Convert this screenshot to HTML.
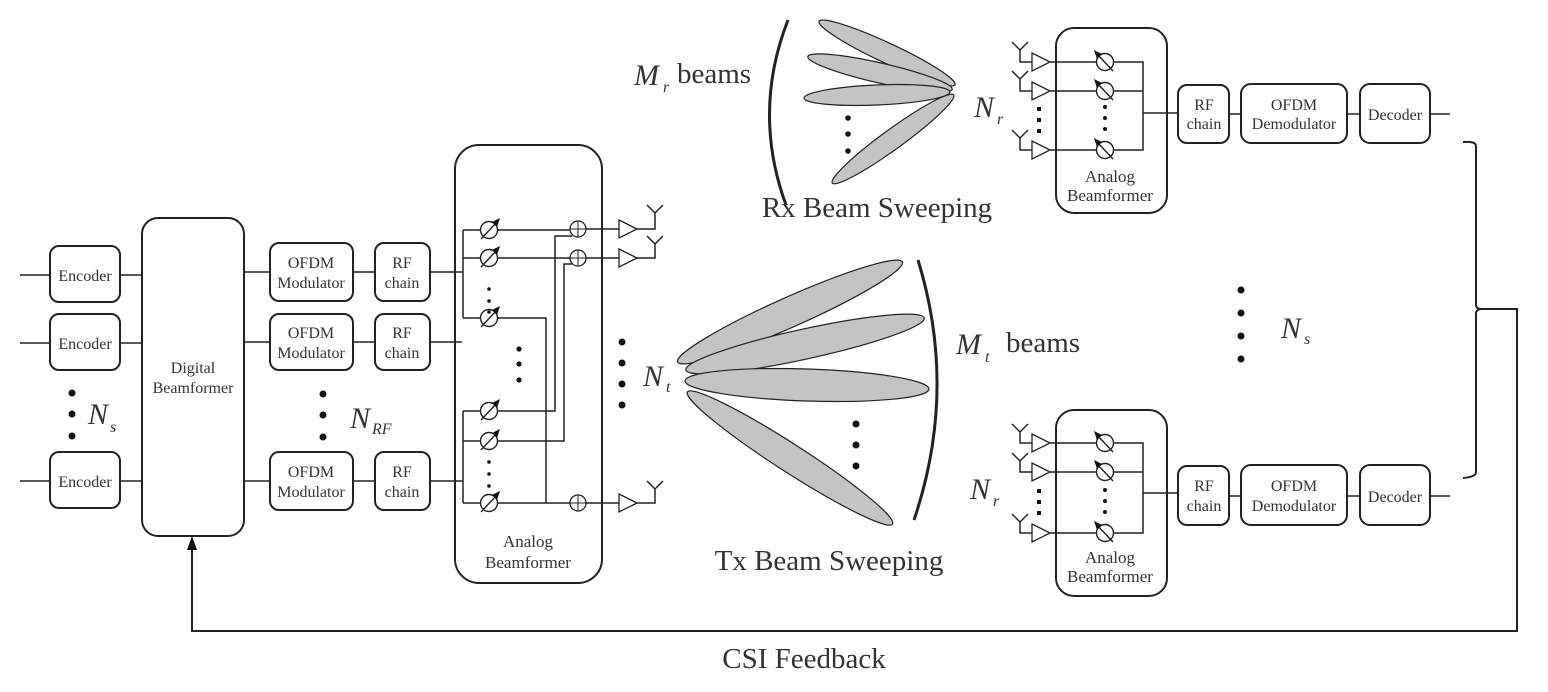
<!DOCTYPE html>
<html><head><meta charset="utf-8"><style>
html,body{margin:0;padding:0;background:#fff}
svg{display:block}
text{font-family:"Liberation Serif",serif;fill:#333}
.s{font-size:16px}
.b{font-size:29px}
.i{font-style:italic;font-size:30px}
.sub{font-style:italic;font-size:16px}
</style></head><body>
<svg width="1548" height="692" viewBox="0 0 1548 692" xmlns="http://www.w3.org/2000/svg">
<defs>
<g id="ps"><circle r="8.5" fill="#fff" stroke="#222" stroke-width="1.4"/><line x1="-8" y1="9" x2="8" y2="-8" stroke="#222" stroke-width="1.4"/><polygon points="11,-12 3,-8 8,-3" fill="#111"/></g>
<g id="psr"><circle r="8.5" fill="#fff" stroke="#222" stroke-width="1.4"/><line x1="8" y1="9" x2="-8" y2="-8" stroke="#222" stroke-width="1.4"/><polygon points="-11,-12 -3,-8 -8,-3" fill="#111"/></g>
<g id="sum"><circle r="8" fill="#fff" stroke="#222" stroke-width="1.3"/><line x1="-8" y1="0" x2="8" y2="0" stroke="#222"/><line x1="0" y1="-8" x2="0" y2="8" stroke="#222"/></g>
<g id="amp"><polygon points="0,-9 18,0 0,9" fill="#fff" stroke="#222" stroke-width="1.3"/></g>
</defs>
<g fill="none" stroke="#222" stroke-width="1.5">
<path d="M20 275H50M20 343H50M20 481H50M120 275H142M120 343H142M120 481H142M244 272H270M244 342H270M244 481H270M353 272H375M353 342H375M353 481H375M430 272H463M430 342H462M430 481H463"/>
<g stroke-width="2">
<rect x="50" y="246" width="70" height="56" rx="9"/>
<rect x="50" y="314" width="70" height="56" rx="9"/>
<rect x="50" y="452" width="70" height="56" rx="9"/>
<rect x="142" y="218" width="102" height="318" rx="16"/>
<rect x="270" y="243" width="83" height="58" rx="9"/>
<rect x="270" y="314" width="83" height="56" rx="9"/>
<rect x="270" y="452" width="83" height="58" rx="9"/>
<rect x="375" y="243" width="55" height="58" rx="9"/>
<rect x="375" y="314" width="55" height="56" rx="9"/>
<rect x="375" y="452" width="55" height="58" rx="9"/>
<rect x="455" y="145" width="147" height="438" rx="24"/>
</g>
<path d="M463 230V318M463 230H481M463 258H481M463 318H481M463 411V503M463 411H481M463 441H481M463 503H481"/>
<path d="M497 230H570M497 258H570M497 318H546V503H570M497 411H555V236H572M497 441H564V264H572M497 503H570"/>
<path d="M586 229H619M586 258H619M586 503H619"/>
<path d="M637 229H655V213M647 205L655 213L663 205M637 258H655V244M647 236L655 244L663 236M637 503H655V489M647 481L655 489L663 481"/>
<path d="M1012 42L1020 50L1028 42M1020 50V62H1032M1012 71L1020 79L1028 71M1020 79V91H1032M1012 130L1020 138L1028 130M1020 138V150H1032"/>
<path d="M1050 62H1097M1050 91H1097M1050 150H1097M1113 62H1143V150H1113M1113 91H1143M1143 113H1178M1229 114H1241M1347 114H1360M1430 114H1450"/>
<path d="M1012 424L1020 432L1028 424M1020 432V443H1032M1012 453L1020 461L1028 453M1020 461V472H1032M1012 514L1020 522L1028 514M1020 522V533H1032"/>
<path d="M1050 443H1097M1050 472H1097M1050 533H1097M1113 443H1143V533H1113M1113 472H1143M1143 493H1178M1229 496H1241M1347 496H1360M1430 496H1450"/>
<g stroke-width="2">
<rect x="1056" y="28" width="111" height="185" rx="18"/>
<rect x="1056" y="410" width="111" height="186" rx="18"/>
<rect x="1178" y="85" width="51" height="58" rx="9"/>
<rect x="1241" y="84" width="106" height="59" rx="10"/>
<rect x="1360" y="84" width="70" height="59" rx="10"/>
<rect x="1178" y="466" width="51" height="59" rx="9"/>
<rect x="1241" y="465" width="106" height="60" rx="10"/>
<rect x="1360" y="465" width="70" height="60" rx="10"/>
<path d="M1463 142Q1476 141 1476 146V305Q1476 309 1482 309H1517V631H192V545"/>
<path d="M1482 309Q1476 309 1476 314V472Q1476 477 1463 478"/>
</g>
<polygon points="192,536 187,550 197,550" fill="#111" stroke="none"/>
<path d="M918 260Q958 390 914 520" stroke-width="3"/>
<path d="M788 20Q752 112 786 205" stroke-width="3"/>
</g>
<g fill="#c4c4c4" stroke="#222" stroke-width="1.2">
<ellipse cx="790" cy="312" rx="123" ry="15" transform="rotate(-24 790 312)"/>
<ellipse cx="805" cy="344" rx="122" ry="15" transform="rotate(-12.3 805 344)"/>
<ellipse cx="807" cy="385" rx="122" ry="16" transform="rotate(1.9 807 385)"/>
<ellipse cx="790" cy="458" rx="122" ry="14" transform="rotate(32.8 790 458)"/>
<ellipse cx="887" cy="53" rx="75" ry="10" transform="rotate(25 887 53)"/>
<ellipse cx="880" cy="73" rx="74" ry="10" transform="rotate(12.8 880 73)"/>
<ellipse cx="877" cy="95" rx="73" ry="10" transform="rotate(-2.4 877 95)"/>
<ellipse cx="893" cy="139" rx="75" ry="10" transform="rotate(-36 893 139)"/>
</g>
<use href="#ps" x="489" y="230"/><use href="#ps" x="489" y="258"/><use href="#ps" x="489" y="318"/>
<use href="#ps" x="489" y="411"/><use href="#ps" x="489" y="441"/><use href="#ps" x="489" y="503"/>
<use href="#sum" x="578" y="229"/><use href="#sum" x="578" y="258"/><use href="#sum" x="578" y="503"/>
<use href="#amp" x="619" y="229"/><use href="#amp" x="619" y="258"/><use href="#amp" x="619" y="503"/>
<use href="#amp" x="1032" y="62"/><use href="#amp" x="1032" y="91"/><use href="#amp" x="1032" y="150"/>
<use href="#amp" x="1032" y="443"/><use href="#amp" x="1032" y="472"/><use href="#amp" x="1032" y="533"/>
<use href="#psr" x="1105" y="62"/><use href="#psr" x="1105" y="91"/><use href="#psr" x="1105" y="150"/>
<use href="#psr" x="1105" y="443"/><use href="#psr" x="1105" y="472"/><use href="#psr" x="1105" y="533"/>
<g fill="#111">
<circle cx="72" cy="393" r="3.5"/><circle cx="72" cy="414" r="3.5"/><circle cx="72" cy="436" r="3.5"/>
<circle cx="323" cy="394" r="3.5"/><circle cx="323" cy="415" r="3.5"/><circle cx="323" cy="437" r="3.5"/>
<circle cx="489" cy="289" r="1.8"/><circle cx="489" cy="301" r="1.8"/><circle cx="489" cy="312" r="1.8"/>
<circle cx="489" cy="462" r="1.8"/><circle cx="489" cy="474" r="1.8"/><circle cx="489" cy="486" r="1.8"/>
<circle cx="519" cy="349" r="2.6"/><circle cx="519" cy="364" r="2.6"/><circle cx="519" cy="380" r="2.6"/>
<circle cx="622" cy="342" r="3.5"/><circle cx="622" cy="363" r="3.5"/><circle cx="622" cy="384" r="3.5"/><circle cx="622" cy="405" r="3.5"/>
<circle cx="856" cy="424" r="3.5"/><circle cx="856" cy="445" r="3.5"/><circle cx="856" cy="466" r="3.5"/>
<circle cx="848" cy="118" r="2.8"/><circle cx="848" cy="134" r="2.8"/><circle cx="848" cy="151" r="2.8"/>
<circle cx="1241" cy="290" r="3.5"/><circle cx="1241" cy="313" r="3.5"/><circle cx="1241" cy="336" r="3.5"/><circle cx="1241" cy="359" r="3.5"/>
<rect x="1037" y="107" width="4" height="4"/><rect x="1037" y="118" width="4" height="4"/><rect x="1037" y="129" width="4" height="4"/>
<rect x="1037" y="489" width="4" height="4"/><rect x="1037" y="500" width="4" height="4"/><rect x="1037" y="511" width="4" height="4"/>
<circle cx="1105" cy="107" r="2"/><circle cx="1105" cy="118" r="2"/><circle cx="1105" cy="129" r="2"/>
<circle cx="1105" cy="490" r="2"/><circle cx="1105" cy="501" r="2"/><circle cx="1105" cy="512" r="2"/>
</g>
<g class="s" text-anchor="middle">
<text x="85" y="281">Encoder</text><text x="85" y="349">Encoder</text><text x="85" y="487">Encoder</text>
<text x="193" y="373">Digital</text><text x="193" y="393">Beamformer</text>
<text x="311" y="268">OFDM</text><text x="311" y="288">Modulator</text>
<text x="311" y="338">OFDM</text><text x="311" y="358">Modulator</text>
<text x="311" y="477">OFDM</text><text x="311" y="497">Modulator</text>
<text x="402" y="268">RF</text><text x="402" y="288">chain</text>
<text x="402" y="338">RF</text><text x="402" y="358">chain</text>
<text x="402" y="477">RF</text><text x="402" y="497">chain</text>
<text x="528" y="547" font-size="17">Analog</text><text x="528" y="568" font-size="17">Beamformer</text>
<text x="1110" y="182" font-size="17">Analog</text><text x="1110" y="201" font-size="17">Beamformer</text>
<text x="1110" y="563" font-size="17">Analog</text><text x="1110" y="582" font-size="17">Beamformer</text>
<text x="1204" y="110">RF</text><text x="1204" y="129">chain</text>
<text x="1294" y="110">OFDM</text><text x="1294" y="129">Demodulator</text>
<text x="1395" y="120">Decoder</text>
<text x="1204" y="491">RF</text><text x="1204" y="511">chain</text>
<text x="1294" y="491">OFDM</text><text x="1294" y="511">Demodulator</text>
<text x="1395" y="502">Decoder</text>
</g>
<text class="i" x="88" y="424">N</text><text class="sub" x="110" y="432">s</text>
<text class="i" x="350" y="428">N</text><text class="sub" x="372" y="434">RF</text>
<text class="i" x="643" y="386">N</text><text class="sub" x="666" y="392">t</text>
<text class="i" x="974" y="117">N</text><text class="sub" x="997" y="124">r</text>
<text class="i" x="970" y="499">N</text><text class="sub" x="993" y="506">r</text>
<text class="i" x="1281" y="338">N</text><text class="sub" x="1304" y="344">s</text>
<text class="i" x="634" y="85">M</text><text class="sub" x="663" y="92">r</text><text class="b" x="677" y="83">beams</text>
<text class="i" x="956" y="354">M</text><text class="sub" x="985" y="362">t</text><text class="b" x="1006" y="352">beams</text>
<text class="b" x="877" y="217" text-anchor="middle">Rx Beam Sweeping</text>
<text class="b" x="829" y="570" text-anchor="middle">Tx Beam Sweeping</text>
<text class="b" x="804" y="668" text-anchor="middle">CSI Feedback</text>
</svg>
</body></html>
